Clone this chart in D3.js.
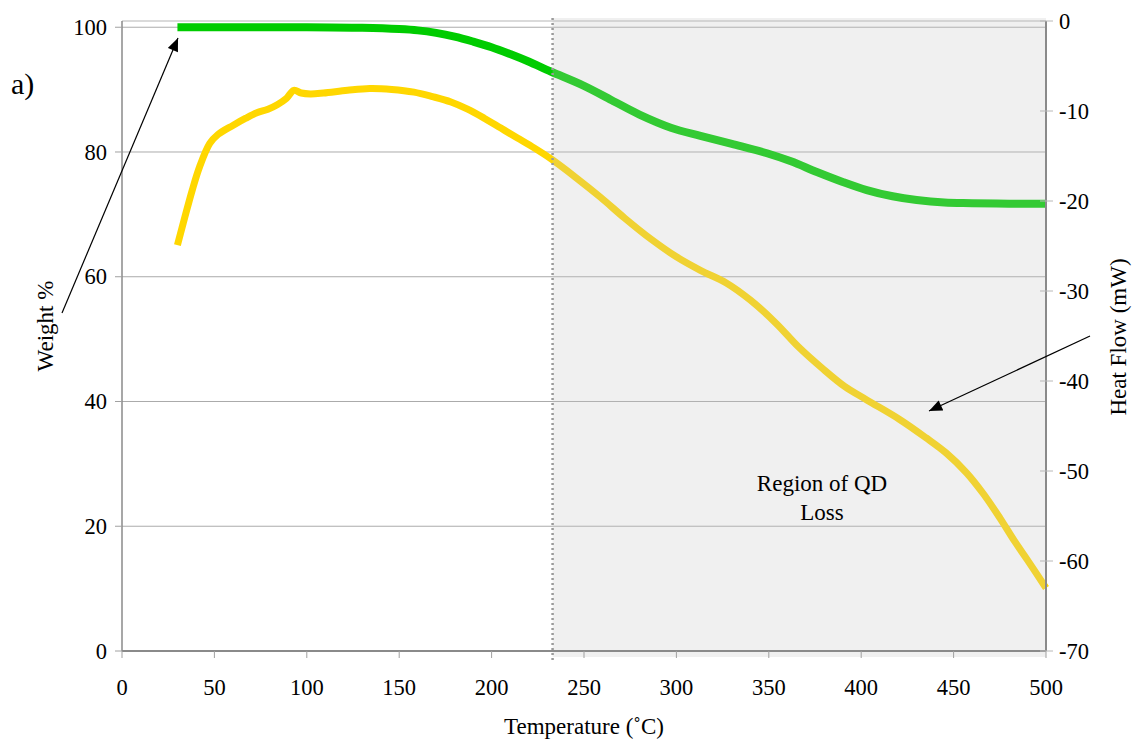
<!DOCTYPE html>
<html>
<head>
<meta charset="utf-8">
<script src="https://cdn.jsdelivr.net/npm/d3@7"></script>
<style>
  html, body { margin: 0; padding: 0; background: #fff; }
  svg { display: block; font-family: "Liberation Serif", "Times New Roman", serif; }
</style>
</head>
<body>
<svg id="chart" width="1133" height="742"></svg>
<script>
// Thermogravimetric trace: temperature (°C) vs weight %
const weightTemp = [30, 60, 100, 130, 150, 160, 170, 180, 190, 200, 210, 220, 232, 250, 265, 280, 297, 313, 330, 349, 362, 376, 390, 403, 417, 430, 445, 460, 480, 500];
const weightPct  = [100, 100, 100, 99.9, 99.7, 99.5, 99.1, 98.5, 97.7, 96.8, 95.7, 94.5, 92.9, 90.6, 88.3, 86.0, 83.9, 82.6, 81.3, 79.8, 78.5, 76.8, 75.2, 73.9, 72.9, 72.3, 71.9, 71.8, 71.7, 71.7];

// Heat flow trace: temperature (°C) vs heat flow (mW)
const heatTemp = [30, 34, 38, 42, 47.5, 52, 60, 67, 73, 79, 84, 89, 93, 97, 102, 109, 122, 134, 146, 158, 168, 178, 187, 196, 205, 214, 223, 232, 245, 259, 272, 286, 300, 313, 327, 340, 354, 366, 379, 391, 403, 421, 435, 446, 457, 466, 475, 483, 490, 500];
const heatFlow = [-24.9, -21.8, -18.8, -16.2, -13.6, -12.6, -11.6, -10.8, -10.2, -9.8, -9.3, -8.6, -7.7, -8.0, -8.1, -8.0, -7.7, -7.5, -7.6, -7.9, -8.4, -9.0, -9.8, -10.8, -11.9, -13.0, -14.1, -15.3, -17.3, -19.6, -21.9, -24.2, -26.2, -27.7, -29.1, -31.0, -33.6, -36.2, -38.6, -40.6, -42.1, -44.3, -46.3, -48.0, -50.2, -52.5, -55.2, -57.8, -59.9, -63.0];

// Axis ticks
const xTicks = [0, 50, 100, 150, 200, 250, 300, 350, 400, 450, 500];
const leftTicks = [0, 20, 40, 60, 80, 100];
const rightTicks = [0, -10, -20, -30, -40, -50, -60, -70];

// Onset of the QD loss region (°C)
const lossOnset = 233;

const svg = d3.select("#chart");
const L = 122, R = 1046, T = 21, B = 651;
const FS = 22.5;

const x = d3.scaleLinear().domain([0, 500]).range([L, R]);
const yL = d3.scaleLinear().domain([0, 101]).range([B, T]);
const yR = d3.scaleLinear().domain([-70, 0]).range([B, T]);

// Horizontal gridlines on the weight axis
svg.append("g").selectAll("line").data(leftTicks.filter(d => d > 0)).join("line")
  .attr("x1", L).attr("x2", R)
  .attr("y1", d => yL(d)).attr("y2", d => yL(d))
  .attr("stroke", "#ababab").attr("stroke-width", 1);

// Plot frame (top edge)
svg.append("line").attr("x1", L).attr("x2", R).attr("y1", T).attr("y2", T)
  .attr("stroke", "#b5b5b5").attr("stroke-width", 1);

// Curves
const weightLine = d3.line().curve(d3.curveCatmullRom.alpha(0.5))
  .x(i => x(weightTemp[i])).y(i => yL(weightPct[i]));
const heatLine = d3.line().curve(d3.curveCatmullRom.alpha(0.5))
  .x(i => x(heatTemp[i])).y(i => yR(heatFlow[i]));

svg.append("path").attr("d", heatLine(d3.range(heatTemp.length)))
  .attr("fill", "none").attr("stroke", "#ffd700").attr("stroke-width", 7)
  .attr("stroke-linejoin", "round");
svg.append("path").attr("d", weightLine(d3.range(weightTemp.length)))
  .attr("fill", "none").attr("stroke", "#00cc00").attr("stroke-width", 8)
  .attr("stroke-linejoin", "round");

// Translucent shading over the QD loss region
svg.append("rect")
  .attr("x", x(lossOnset)).attr("y", T - 3)
  .attr("width", R - x(lossOnset)).attr("height", B - T + 9)
  .attr("fill", "rgb(197,197,197)").attr("fill-opacity", 0.26);

// Dotted boundary line
svg.append("line")
  .attr("x1", x(lossOnset)).attr("x2", x(lossOnset))
  .attr("y1", T - 3).attr("y2", B + 9)
  .attr("stroke", "#9a9a9a").attr("stroke-width", 2.5)
  .attr("stroke-dasharray", "2,3");

// Axes lines
svg.append("line").attr("x1", L).attr("x2", L).attr("y1", T).attr("y2", B)
  .attr("stroke", "#8a8a8a").attr("stroke-width", 1.5);
svg.append("line").attr("x1", R).attr("x2", R).attr("y1", T).attr("y2", B)
  .attr("stroke", "#8a8a8a").attr("stroke-width", 2);
svg.append("line").attr("x1", L).attr("x2", R).attr("y1", B).attr("y2", B)
  .attr("stroke", "#8a8a8a").attr("stroke-width", 2);

// Bottom axis
const gx = svg.append("g");
gx.selectAll("line").data(xTicks).join("line")
  .attr("x1", d => x(d)).attr("x2", d => x(d)).attr("y1", B).attr("y2", B + 7)
  .attr("stroke", "#a0a0a0").attr("stroke-width", 1);
gx.selectAll("text").data(xTicks).join("text")
  .attr("x", d => x(d)).attr("y", 695)
  .attr("text-anchor", "middle").attr("font-size", FS).attr("fill", "#000")
  .text(d => d);

// Left axis
const gl = svg.append("g");
gl.selectAll("line").data(leftTicks).join("line")
  .attr("x1", L - 7).attr("x2", L).attr("y1", d => yL(d)).attr("y2", d => yL(d))
  .attr("stroke", "#a0a0a0").attr("stroke-width", 1);
gl.selectAll("text").data(leftTicks).join("text")
  .attr("x", 107).attr("y", d => yL(d)).attr("dy", "0.34em")
  .attr("text-anchor", "end").attr("font-size", FS).attr("fill", "#000")
  .text(d => d);

// Right axis
const gr = svg.append("g");
gr.selectAll("line").data(rightTicks).join("line")
  .attr("x1", R - 6).attr("x2", R + 7).attr("y1", d => yR(d)).attr("y2", d => yR(d))
  .attr("stroke", "#b8b8b8").attr("stroke-width", 1);
gr.selectAll("text").data(rightTicks).join("text")
  .attr("x", 1059).attr("y", d => yR(d)).attr("dy", "0.34em")
  .attr("text-anchor", "start").attr("font-size", FS).attr("fill", "#000")
  .text(d => d);

// Axis titles
svg.append("text").attr("x", 584).attr("y", 734).attr("text-anchor", "middle")
  .attr("font-size", 23).text("Temperature (˚C)");
svg.append("text").attr("transform", "translate(53,326) rotate(-90)")
  .attr("text-anchor", "middle").attr("font-size", 23).text("Weight %");
svg.append("text").attr("transform", "translate(1126,337) rotate(-90)")
  .attr("text-anchor", "middle").attr("font-size", 23).text("Heat Flow (mW)");

// Panel label
svg.append("text").attr("x", 11).attr("y", 94).attr("font-size", 30).text("a)");

// Region annotation
svg.append("text").attr("x", 822).attr("y", 491).attr("text-anchor", "middle")
  .attr("font-size", 23).text("Region of QD");
svg.append("text").attr("x", 822).attr("y", 520).attr("text-anchor", "middle")
  .attr("font-size", 23).text("Loss");

// Arrows pointing from axis titles to their curves
svg.append("defs").append("marker")
  .attr("id", "head").attr("viewBox", "0 0 12 10")
  .attr("refX", 12).attr("refY", 5)
  .attr("markerWidth", 14).attr("markerHeight", 11)
  .attr("markerUnits", "userSpaceOnUse").attr("orient", "auto")
  .append("path").attr("d", "M0,0 L12,5 L0,10 Z").attr("fill", "#000");

svg.append("line").attr("x1", 62).attr("y1", 313).attr("x2", 178).attr("y2", 38)
  .attr("stroke", "#000").attr("stroke-width", 1.2).attr("marker-end", "url(#head)");
svg.append("line").attr("x1", 1090).attr("y1", 336).attr("x2", 929).attr("y2", 411)
  .attr("stroke", "#000").attr("stroke-width", 1.2).attr("marker-end", "url(#head)");
</script>
</body>
</html>
